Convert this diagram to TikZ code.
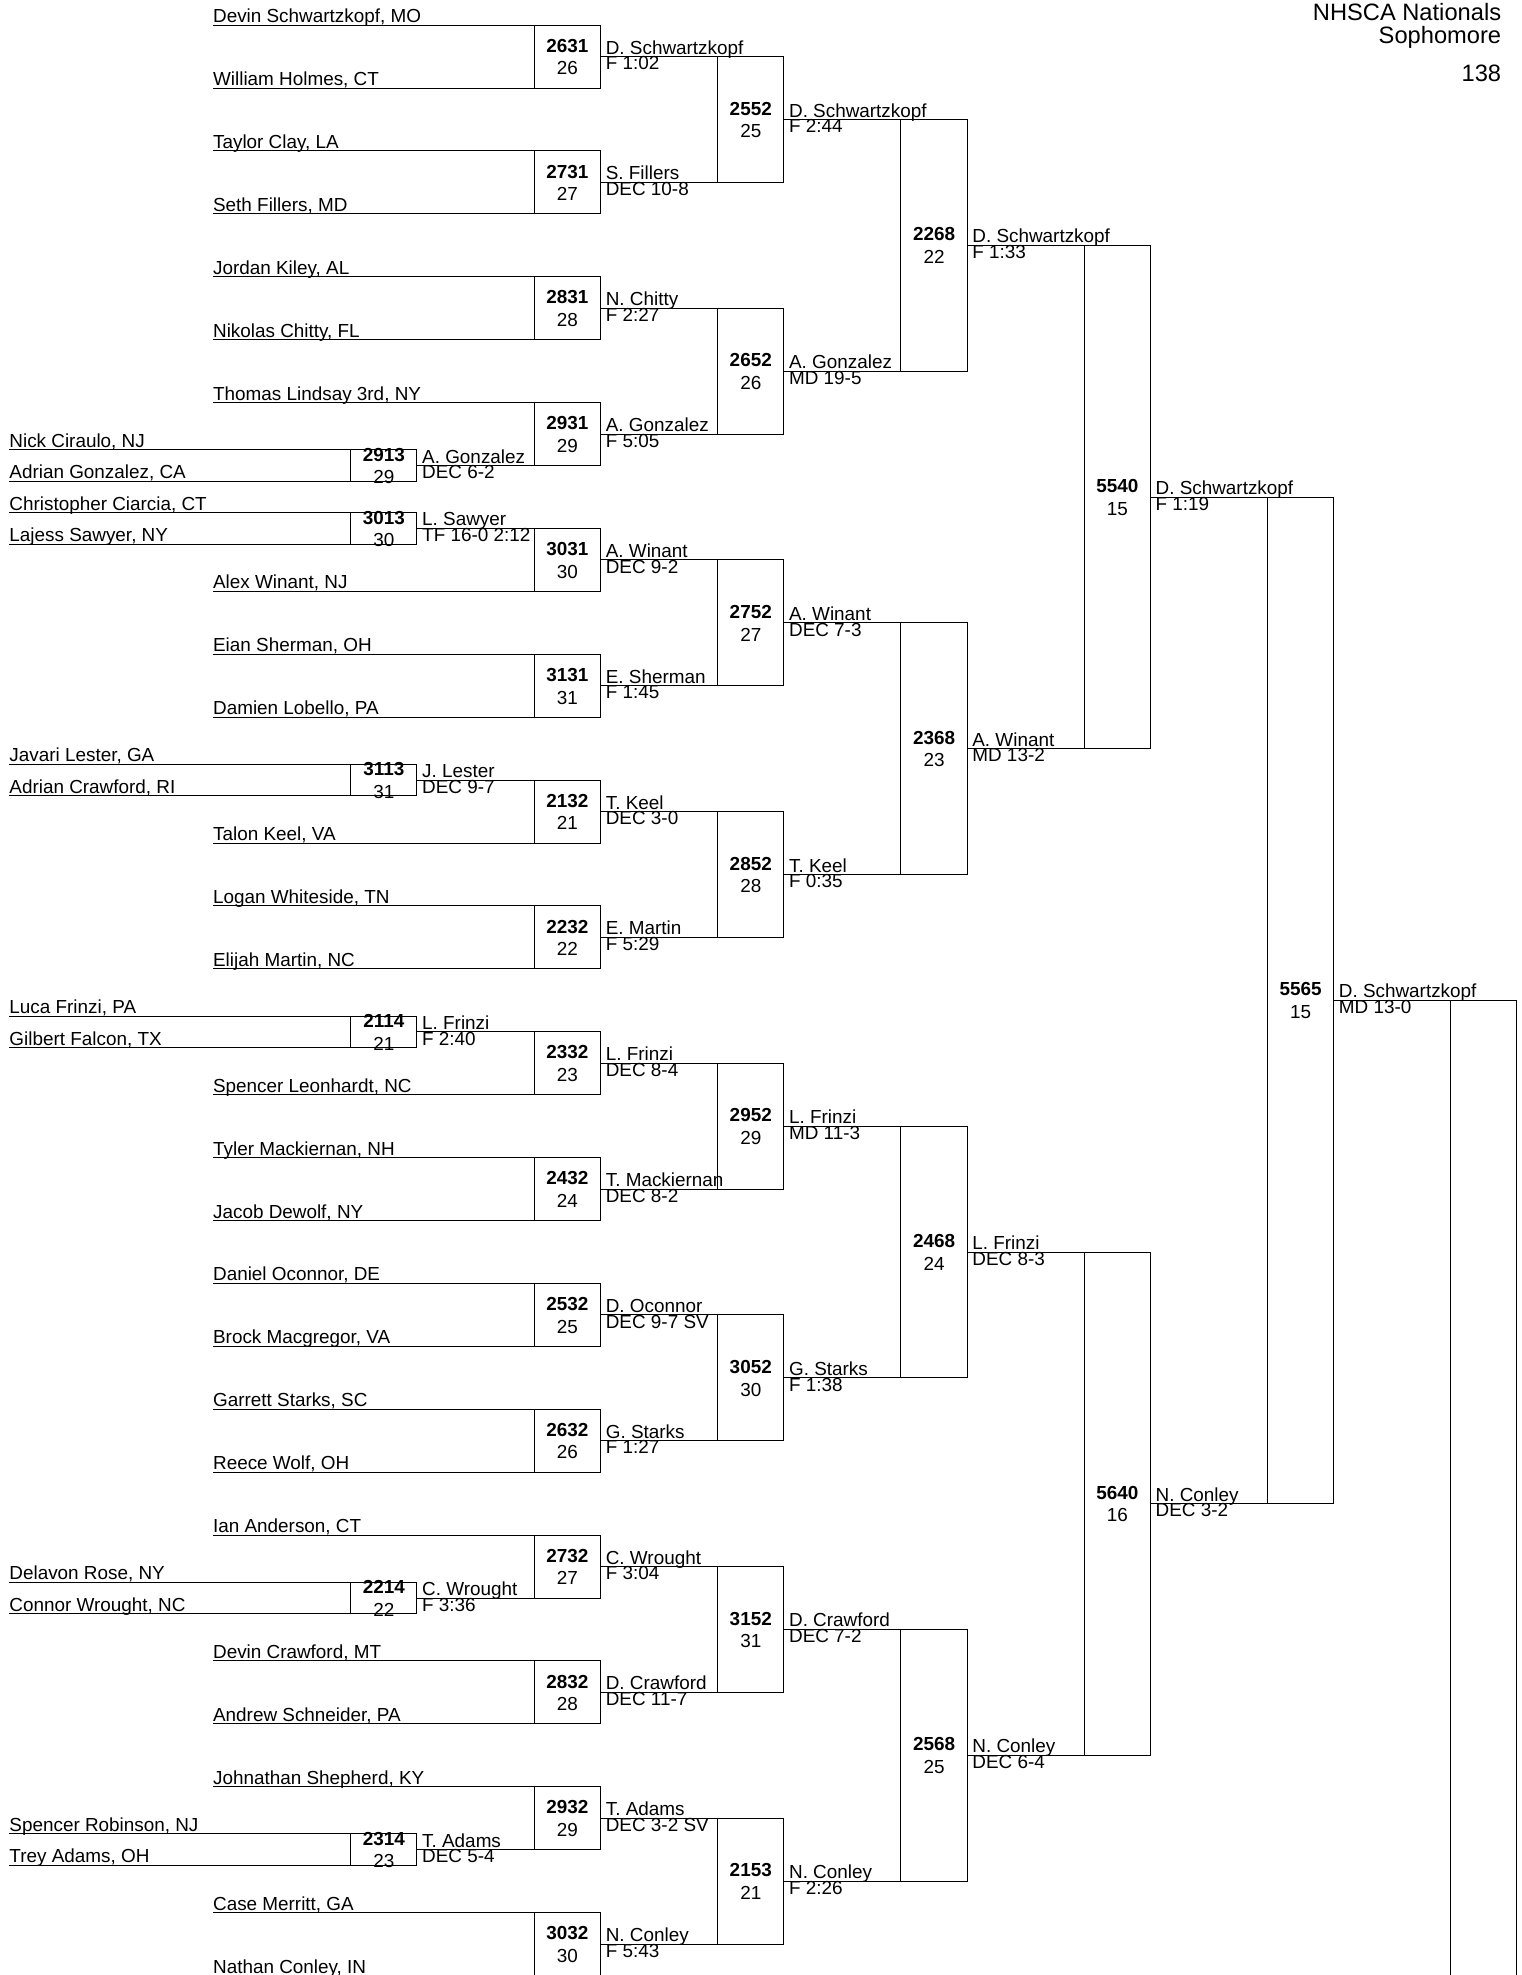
\documentclass[tikz,border=0pt]{standalone}
\usepackage{fontspec}
\setmainfont{Liberation Sans}
\usetikzlibrary{calc}

\tikzset{
  bracket/.style={line width=0.8pt,black},
  entrant/.style={anchor=base west,inner sep=0pt,font=\fontsize{15}{15}\selectfont},
  winner/.style={entrant},
  result/.style={entrant},
  boutno/.style={anchor=base,inner sep=0pt,font=\fontsize{15}{15}\selectfont\bfseries},
  matno/.style={anchor=base,inner sep=0pt,font=\fontsize{15}{15}\selectfont},
  heading/.style={anchor=base east,inner sep=0pt,font=\fontsize{18.8}{18.8}\selectfont}
}

\newcommand{\Slot}[4]{%
  \coordinate (#1) at (#2,#3);
  \node[entrant] (#1-t) at (#2,#3-2) {#4}}

\newcommand{\Bout}[7]{%
  \coordinate (b#1-l) at (#3,0);
  \coordinate (b#1-r) at (#3+52.5,0);
  \draw[bracket] (#4) -- (#4 -| b#1-r) -- (#5 -| b#1-r) -- (#5);
  \draw[bracket] (#4 -| b#1-l) -- (#5 -| b#1-l);
  \coordinate (b#1) at ($(#4 -| b#1-r)!.5!(#5 -| b#1-r)$);
  \node[boutno] (b#1-no) at ($(b#1)+(-26.25,-3.5)$) {#1};
  \node[matno] (b#1-mat) at ($(b#1)+(-26.25,14.5)$) {#2};
  \node[winner] (b#1-win) at ($(b#1)+(4,-2)$) {#6};
  \node[result] (b#1-res) at ($(b#1)+(4,10.5)$) {#7}}

\begin{document}
\begin{tikzpicture}[x=1pt,y=-0.999pt]
            \path[use as bounding box,clip] (0,0) rectangle (1208,1569.6);
            \node[heading] (title) at (1192,16) {NHSCA Nationals};
            \node[heading] (level) at (1192,34.5) {Sophomore};
            \node[heading] (weight) at (1192,64.5) {138};

            \Slot{schwartzkopf}{169}{20}{Devin Schwartzkopf, MO};
            \Slot{holmes}{169}{70}{William Holmes, CT};
            \Slot{clay}{169}{120}{Taylor Clay, LA};
            \Slot{fillers}{169}{170}{Seth Fillers, MD};
            \Slot{kiley}{169}{220}{Jordan Kiley, AL};
            \Slot{chitty}{169}{270}{Nikolas Chitty, FL};
            \Slot{lindsay}{169}{320}{Thomas Lindsay 3rd, NY};
            \Slot{ciraulo}{7.3}{357.5}{Nick Ciraulo, NJ};
            \Slot{agonzalez}{7.3}{382.5}{Adrian Gonzalez, CA};
            \Slot{ciarcia}{7.3}{407.5}{Christopher Ciarcia, CT};
            \Slot{sawyer}{7.3}{432.5}{Lajess Sawyer, NY};
            \Slot{winant}{169}{470}{Alex Winant, NJ};
            \Slot{sherman}{169}{520}{Eian Sherman, OH};
            \Slot{lobello}{169}{570}{Damien Lobello, PA};
            \Slot{lester}{7.3}{607.5}{Javari Lester, GA};
            \Slot{acrawford}{7.3}{632.5}{Adrian Crawford, RI};
            \Slot{keel}{169}{670}{Talon Keel, VA};
            \Slot{whiteside}{169}{720}{Logan Whiteside, TN};
            \Slot{martin}{169}{770}{Elijah Martin, NC};
            \Slot{frinzi}{7.3}{807.5}{Luca Frinzi, PA};
            \Slot{falcon}{7.3}{832.5}{Gilbert Falcon, TX};
            \Slot{leonhardt}{169}{870}{Spencer Leonhardt, NC};
            \Slot{mackiernan}{169}{920}{Tyler Mackiernan, NH};
            \Slot{dewolf}{169}{970}{Jacob Dewolf, NY};
            \Slot{oconnor}{169}{1020}{Daniel Oconnor, DE};
            \Slot{macgregor}{169}{1070}{Brock Macgregor, VA};
            \Slot{starks}{169}{1120}{Garrett Starks, SC};
            \Slot{wolf}{169}{1170}{Reece Wolf, OH};
            \Slot{anderson}{169}{1220}{Ian Anderson, CT};
            \Slot{rose}{7.3}{1257.5}{Delavon Rose, NY};
            \Slot{wrought}{7.3}{1282.5}{Connor Wrought, NC};
            \Slot{dcrawford}{169}{1320}{Devin Crawford, MT};
            \Slot{schneider}{169}{1370}{Andrew Schneider, PA};
            \Slot{shepherd}{169}{1420}{Johnathan Shepherd, KY};
            \Slot{robinson}{7.3}{1457.5}{Spencer Robinson, NJ};
            \Slot{adams}{7.3}{1482.5}{Trey Adams, OH};
            \Slot{merritt}{169}{1520}{Case Merritt, GA};
            \Slot{conley}{169}{1570}{Nathan Conley, IN};

            \Bout{2913}{29}{278.5}{ciraulo}{agonzalez}{A. Gonzalez}{DEC 6-2};
            \Bout{3013}{30}{278.5}{ciarcia}{sawyer}{L. Sawyer}{TF 16-0 2:12};
            \Bout{3113}{31}{278.5}{lester}{acrawford}{J. Lester}{DEC 9-7};
            \Bout{2114}{21}{278.5}{frinzi}{falcon}{L. Frinzi}{F 2:40};
            \Bout{2214}{22}{278.5}{rose}{wrought}{C. Wrought}{F 3:36};
            \Bout{2314}{23}{278.5}{robinson}{adams}{T. Adams}{DEC 5-4};

            \Bout{2631}{26}{424.3}{schwartzkopf}{holmes}{D. Schwartzkopf}{F 1:02};
            \Bout{2731}{27}{424.3}{clay}{fillers}{S. Fillers}{DEC 10-8};
            \Bout{2831}{28}{424.3}{kiley}{chitty}{N. Chitty}{F 2:27};
            \Bout{2931}{29}{424.3}{lindsay}{b2913}{A. Gonzalez}{F 5:05};
            \Bout{3031}{30}{424.3}{b3013}{winant}{A. Winant}{DEC 9-2};
            \Bout{3131}{31}{424.3}{sherman}{lobello}{E. Sherman}{F 1:45};
            \Bout{2132}{21}{424.3}{b3113}{keel}{T. Keel}{DEC 3-0};
            \Bout{2232}{22}{424.3}{whiteside}{martin}{E. Martin}{F 5:29};
            \Bout{2332}{23}{424.3}{b2114}{leonhardt}{L. Frinzi}{DEC 8-4};
            \Bout{2432}{24}{424.3}{mackiernan}{dewolf}{T. Mackiernan}{DEC 8-2};
            \Bout{2532}{25}{424.3}{oconnor}{macgregor}{D. Oconnor}{DEC 9-7 SV};
            \Bout{2632}{26}{424.3}{starks}{wolf}{G. Starks}{F 1:27};
            \Bout{2732}{27}{424.3}{anderson}{b2214}{C. Wrought}{F 3:04};
            \Bout{2832}{28}{424.3}{dcrawford}{schneider}{D. Crawford}{DEC 11-7};
            \Bout{2932}{29}{424.3}{shepherd}{b2314}{T. Adams}{DEC 3-2 SV};
            \Bout{3032}{30}{424.3}{merritt}{conley}{N. Conley}{F 5:43};

            \Bout{2552}{25}{569.8}{b2631}{b2731}{D. Schwartzkopf}{F 2:44};
            \Bout{2652}{26}{569.8}{b2831}{b2931}{A. Gonzalez}{MD 19-5};
            \Bout{2752}{27}{569.8}{b3031}{b3131}{A. Winant}{DEC 7-3};
            \Bout{2852}{28}{569.8}{b2132}{b2232}{T. Keel}{F 0:35};
            \Bout{2952}{29}{569.8}{b2332}{b2432}{L. Frinzi}{MD 11-3};
            \Bout{3052}{30}{569.8}{b2532}{b2632}{G. Starks}{F 1:38};
            \Bout{3152}{31}{569.8}{b2732}{b2832}{D. Crawford}{DEC 7-2};
            \Bout{2153}{21}{569.8}{b2932}{b3032}{N. Conley}{F 2:26};

            \Bout{2268}{22}{715.3}{b2552}{b2652}{D. Schwartzkopf}{F 1:33};
            \Bout{2368}{23}{715.3}{b2752}{b2852}{A. Winant}{MD 13-2};
            \Bout{2468}{24}{715.3}{b2952}{b3052}{L. Frinzi}{DEC 8-3};
            \Bout{2568}{25}{715.3}{b3152}{b2153}{N. Conley}{DEC 6-4};

            \Bout{5540}{15}{860.8}{b2268}{b2368}{D. Schwartzkopf}{F 1:19};
            \Bout{5640}{16}{860.8}{b2468}{b2568}{N. Conley}{DEC 3-2};

            \Bout{5565}{15}{1006.3}{b5540}{b5640}{D. Schwartzkopf}{MD 13-0};

            \coordinate (final-l) at (1151.8,1600);
            \coordinate (final-r) at (1204.3,1600);
            \draw[bracket] (b5565) -- (b5565 -| final-r) -- (final-r);
            \draw[bracket] (b5565 -| final-l) -- (final-l);
\end{tikzpicture}
\end{document}
